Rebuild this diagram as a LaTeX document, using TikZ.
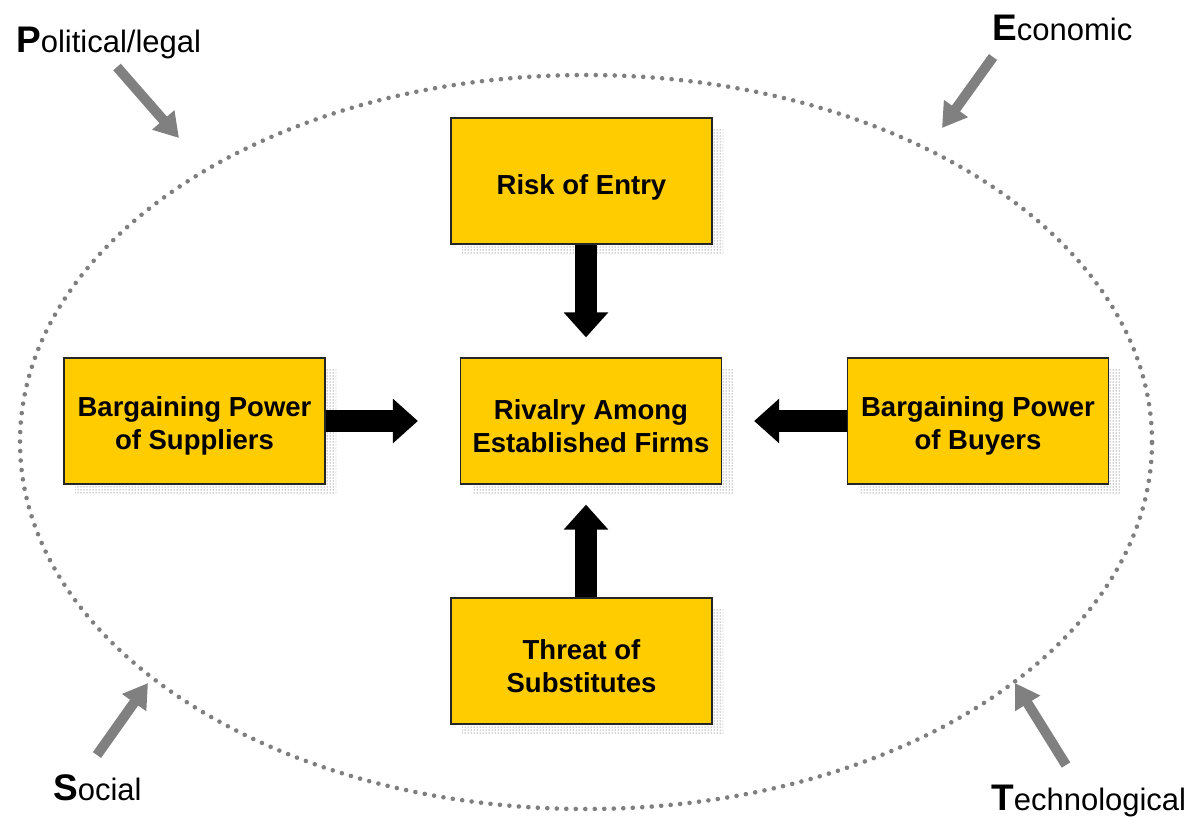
\documentclass[tikz,border=0pt]{standalone}
\usepackage{fontspec}
\setmainfont{Liberation Sans}
\usetikzlibrary{arrows.meta,patterns,shadows}
\definecolor{boxyellow}{HTML}{FFCC00}
\definecolor{envgray}{HTML}{808080}
\definecolor{ringgray}{HTML}{7F7F7F}
\tikzset{
  forcebox/.style={draw=black!85, line width=1.2pt, fill=boxyellow,
    minimum width=261pt, minimum height=126pt, inner sep=0pt, align=center,
    font=\fontsize{27.5}{33}\selectfont\bfseries,
    general shadow={shadow xshift=11pt, shadow yshift=-10pt,
      pattern=dots, pattern color=black!75}},
  forcearrow/.style={line width=22pt, draw=black,
    -{Triangle[width=43pt,length=25pt]}},
  envarrow/.style={line width=10pt, draw=envgray,
    -{Triangle[width=28pt,length=24pt]}},
  ring/.style={draw=ringgray, line width=4.6pt, line cap=round,
    dash pattern=on 0pt off 9.5pt},
  envlabel/.style={anchor=base west, inner sep=0pt,
    font=\fontsize{31}{31}\selectfont},
}
% first-line struts: set the text a little low in its box
\newcommand{\tallstrut}{\rule{0pt}{33pt}}
\newcommand{\midstrut}{\rule{0pt}{30pt}}
\newcommand{\initial}[1]{{\fontsize{37}{37}\selectfont\bfseries #1}}
\begin{document}
\begin{tikzpicture}[x=1pt, y=-1pt]
  \useasboundingbox (0,0) rectangle (1191,817);

  % the business environment
  \draw[ring] (586,442) ellipse [x radius=566pt, y radius=367pt];

  % the five forces
  \node[forcebox] (entry)  at (581.5,181) {\tallstrut Risk of Entry};
  \node[forcebox] (rival)  at (591,421)   {\midstrut Rivalry Among\\Established Firms};
  \node[forcebox] (supply) at (194.5,421) {\midstrut Bargaining Power\\of Suppliers};
  \node[forcebox] (buyers) at (978,421)   {\midstrut Bargaining Power\\of Buyers};
  \node[forcebox] (subst)  at (581.5,661) {\midstrut Threat of\\Substitutes};

  % forces acting on the rivalry
  \draw[forcearrow, shorten >=20pt] ([xshift=4.5pt]entry.south) -- ([xshift=4.5pt]entry.south |- rival.north);
  \draw[forcearrow, shorten >=42pt] (supply.east) -- (supply.east -| rival.west);
  \draw[forcearrow, shorten >=32pt] (buyers.west) -- (buyers.west -| rival.east);
  \draw[forcearrow, shorten >=20pt] ([xshift=4.5pt]subst.north) -- ([xshift=4.5pt]subst.north |- rival.south);

  % PEST labels
  \node[envlabel] (pol) at (16,52)   {\initial{P}olitical/legal};
  \node[envlabel] (eco) at (992,40)  {\initial{E}conomic};
  \node[envlabel] (soc) at (53,800)  {\initial{S}ocial};
  \node[envlabel] (tec) at (991,810) {\initial{T}echnological};

  % PEST influences
  \coordinate (polTail) at (117,67);
  \coordinate (polTip)  at (179,138);
  \coordinate (ecoTail) at (993,57);
  \coordinate (ecoTip)  at (942,128);
  \coordinate (socTail) at (97,755);
  \coordinate (socTip)  at (148,683);
  \coordinate (tecTail) at (1066,765);
  \coordinate (tecTip)  at (1015,683);
  \draw[envarrow] (polTail) -- (polTip);
  \draw[envarrow] (ecoTail) -- (ecoTip);
  \draw[envarrow] (socTail) -- (socTip);
  \draw[envarrow] (tecTail) -- (tecTip);
\end{tikzpicture}
\end{document}
